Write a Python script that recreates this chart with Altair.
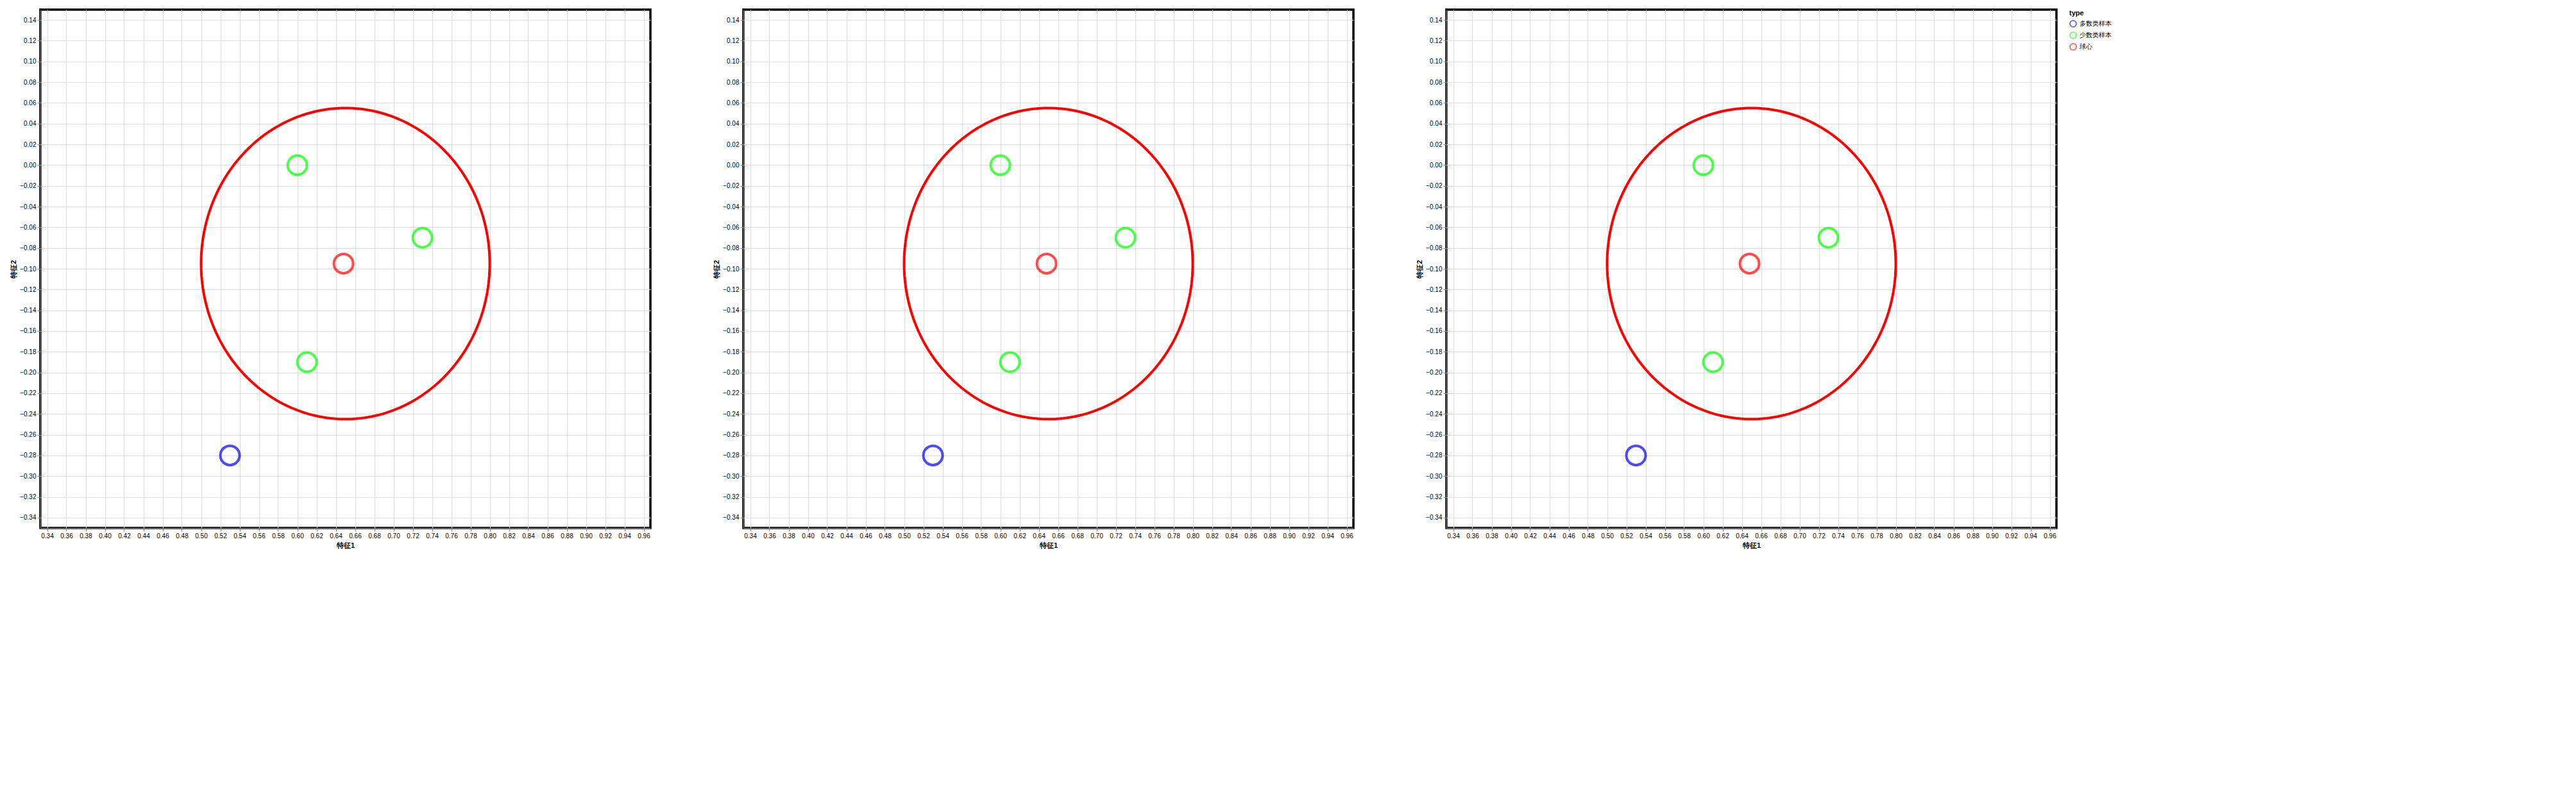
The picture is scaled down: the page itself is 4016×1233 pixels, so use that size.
import altair as alt
import pandas as pd
import numpy as np

types = ["多数类样本", "少数类样本", "球心"]
maj_x = [0.53]
maj_y = [-0.28]
min_x = [0.60, 0.73, 0.61]
min_y = [0.0, -0.07, -0.19]
ctr_x = [0.648]
ctr_y = [-0.095]
ball_cx, ball_cy, ball_r = 0.65, -0.095, 0.15

XMIN, XMAX = 0.333, 0.967
YMIN, YMAX = -0.35, 0.15
W, H = 951, 808

pts = pd.DataFrame({
    "x": maj_x + min_x + ctr_x,
    "y": maj_y + min_y + ctr_y,
    "type": [types[0]] * len(maj_x) + [types[1]] * len(min_x) + [types[2]] * len(ctr_x),
})
xscale = alt.Scale(domain=[XMIN, XMAX], nice=False, zero=False)
yscale = alt.Scale(domain=[YMIN, YMAX], nice=False, zero=False)

points = alt.Chart(pts).mark_point(filled=False, size=900, strokeWidth=4).encode(
    x=alt.X("x:Q", scale=xscale, title="特征1"),
    y=alt.Y("y:Q", scale=yscale, title="特征2"),
    color=alt.Color("type:N", scale=alt.Scale(domain=types, range=["#0000ff", "#00ff00", "#ff0000"])),
)

theta = np.linspace(0, 2 * np.pi, 241)
ball = pd.DataFrame({"x": ball_cx + ball_r * np.cos(theta), "y": ball_cy + ball_r * np.sin(theta),
                     "i": np.arange(len(theta))})
ball_line = alt.Chart(ball).mark_line(color="#ff0000", strokeWidth=4).encode(
    x=alt.X("x:Q", scale=xscale), y=alt.Y("y:Q", scale=yscale), order="i:Q")

pa = alt.layer(ball_line, points).properties(width=W, height=H)
chart = alt.hconcat(pa, pa, pa, spacing=93).configure_view(stroke="black", strokeWidth=3.5)
chart.save("out.html", embed_options={"renderer": "svg", "actions": False})
